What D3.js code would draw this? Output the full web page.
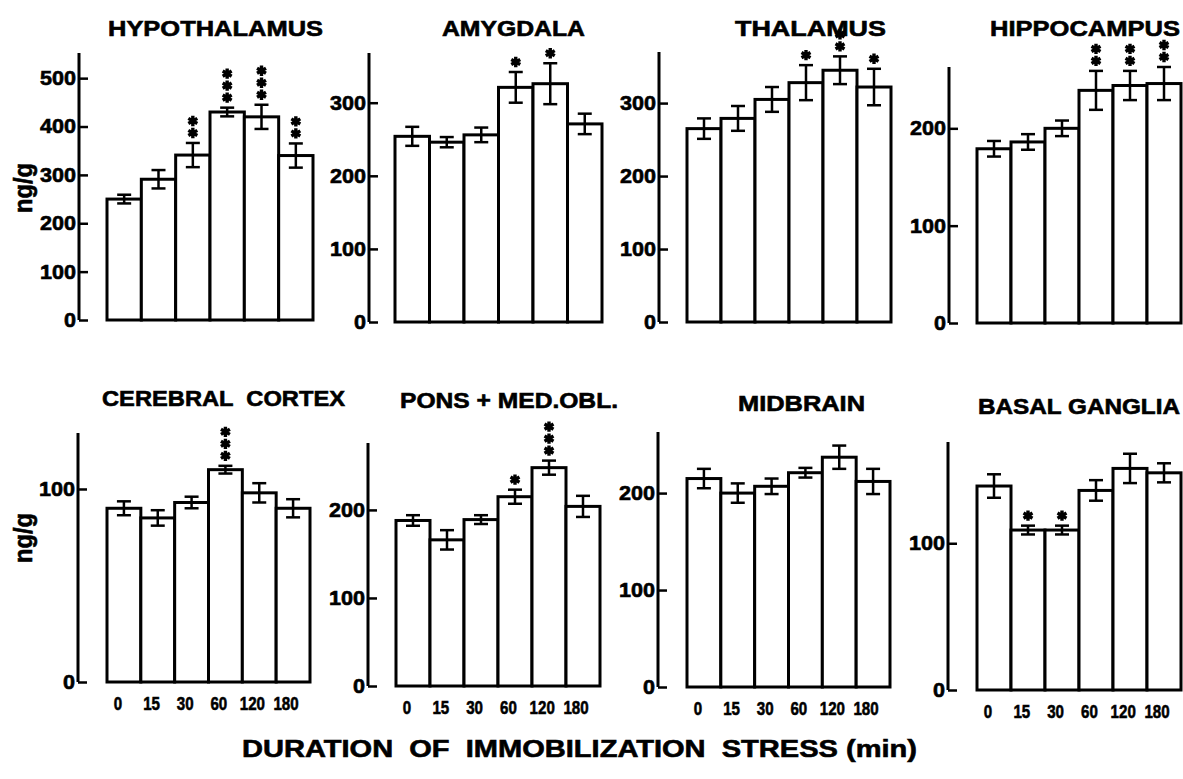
<!DOCTYPE html>
<html>
<head>
<meta charset="utf-8">
<script src="https://cdn.jsdelivr.net/npm/d3@7"></script>
<style>
  body { margin: 0; background: #fff; }
  svg { display: block; }
  text { font-family: "Liberation Sans", Arial, sans-serif; font-weight: bold; fill: #000; stroke: #000; stroke-width: 0.6px; }
</style>
</head>
<body>
<svg id="chart" width="1183" height="779"></svg>
<script>
// duraciones del estrés (min)
const durations = ["0", "15", "30", "60", "120", "180"];

// medias, errores y número de asteriscos por región
const hypothalamus = [250, 291, 341, 430, 420, 340];
const hypothalamusErr = [9, 19, 25, 9, 25, 25];
const hypothalamusStars = [0, 0, 2, 3, 3, 2];

const amygdala = [254, 246, 256, 321, 326, 271];
const amygdalaErr = [13, 7, 10, 21, 28, 14];
const amygdalaStars = [0, 0, 0, 1, 1, 0];

const thalamus = [265, 279, 305, 328, 345, 322];
const thalamusErr = [14, 17, 17, 24, 19, 25];
const thalamusStars = [0, 0, 0, 1, 2, 1];

const hippocampus = [179, 186, 200, 239, 244, 246];
const hippocampusErr = [8, 8, 8, 20, 15, 17];
const hippocampusStars = [0, 0, 0, 2, 2, 2];

const cortex = [90, 85, 93, 110, 98, 90];
const cortexErr = [3.6, 4, 3, 2, 5, 4.7];
const cortexStars = [0, 0, 0, 3, 0, 0];

const pons = [188, 166, 189, 215, 248, 204];
const ponsErr = [6, 11, 5, 8, 8, 12];
const ponsStars = [0, 0, 0, 1, 3, 0];

const midbrain = [215, 200, 207, 221, 237, 212];
const midbrainErr = [10, 10, 8, 5, 12, 13];
const midbrainStars = [0, 0, 0, 0, 0, 0];

const basalGanglia = [139, 109, 109, 136, 151, 148];
const basalGangliaErr = [8, 3, 3, 7, 10, 6.5];
const basalGangliaStars = [0, 1, 1, 0, 0, 0];

const titles = ["HYPOTHALAMUS", "AMYGDALA", "THALAMUS", "HIPPOCAMPUS",
                "CEREBRAL  CORTEX", "PONS + MED.OBL.", "MIDBRAIN", "BASAL GANGLIA"];
const yTicks = [[0, 100, 200, 300, 400, 500], [0, 100, 200, 300], [0, 100, 200, 300], [0, 100, 200],
                [0, 100], [0, 100, 200], [0, 100, 200], [0, 100]];

const panels = [
  { mean: hypothalamus, err: hypothalamusErr, stars: hypothalamusStars },
  { mean: amygdala, err: amygdalaErr, stars: amygdalaStars },
  { mean: thalamus, err: thalamusErr, stars: thalamusStars },
  { mean: hippocampus, err: hippocampusErr, stars: hippocampusStars },
  { mean: cortex, err: cortexErr, stars: cortexStars },
  { mean: pons, err: ponsErr, stars: ponsStars },
  { mean: midbrain, err: midbrainErr, stars: midbrainStars },
  { mean: basalGanglia, err: basalGangliaErr, stars: basalGangliaStars }
];

// posiciones de cada panel (eje, barras, título)
const layout = [
  { ax: 79,  top: 53,  bottom: 320, vmax: 552, x0: 107, x1: 313, tx: 108, tw: 215, ty: 36 },
  { ax: 369, top: 53,  bottom: 322, vmax: 368, x0: 395, x1: 602, tx: 442, tw: 143, ty: 36 },
  { ax: 659, top: 52,  bottom: 322, vmax: 370, x0: 687, x1: 891, tx: 735, tw: 151, ty: 36 },
  { ax: 949, top: 67,  bottom: 323, vmax: 263, x0: 977, x1: 1181, tx: 990, tw: 190, ty: 36 },
  { ax: 78,  top: 433, bottom: 682, vmax: 129, x0: 107, x1: 310, tx: 102, tw: 243, ty: 406 },
  { ax: 368, top: 443, bottom: 686, vmax: 276, x0: 396, x1: 600, tx: 400, tw: 218, ty: 408 },
  { ax: 658, top: 432, bottom: 687, vmax: 263, x0: 687, x1: 890, tx: 738, tw: 127, ty: 411 },
  { ax: 948, top: 442, bottom: 690, vmax: 169, x0: 977, x1: 1181, tx: 978, tw: 202, ty: 414 }
];

const svg = d3.select("#chart");
const star = d3.symbol().type(d3.symbolAsterisk).size(75);

panels.forEach((p, i) => {
  const L = layout[i];
  const y = d3.scaleLinear().domain([0, L.vmax]).range([L.bottom, L.top]);
  const x = d3.scaleBand().domain(durations).range([L.x0, L.x1]);
  const bw = x.bandwidth();
  const g = svg.append("g");

  // barras
  g.selectAll("rect.bar")
    .data(p.mean)
    .join("rect")
    .attr("class", "bar")
    .attr("x", (d, j) => x(durations[j]))
    .attr("y", d => y(d))
    .attr("width", bw)
    .attr("height", d => L.bottom - y(d))
    .attr("fill", "#fff")
    .attr("stroke", "#000")
    .attr("stroke-width", 3);

  // barras de error
  const eb = g.selectAll("g.err")
    .data(p.mean)
    .join("g")
    .attr("class", "err")
    .attr("stroke", "#000")
    .attr("stroke-width", 2.5);
  eb.append("line")
    .attr("x1", (d, j) => x(durations[j]) + bw / 2)
    .attr("x2", (d, j) => x(durations[j]) + bw / 2)
    .attr("y1", (d, j) => y(d - p.err[j]))
    .attr("y2", (d, j) => y(d + p.err[j]));
  [-1, 1].forEach(sgn => {
    eb.append("line")
      .attr("x1", (d, j) => x(durations[j]) + bw / 2 - 7)
      .attr("x2", (d, j) => x(durations[j]) + bw / 2 + 7)
      .attr("y1", (d, j) => y(d + sgn * p.err[j]))
      .attr("y2", (d, j) => y(d + sgn * p.err[j]));
  });

  // asteriscos
  p.stars.forEach((n, j) => {
    for (let s = 0; s < n; s++) {
      const cy = y(p.mean[j] + p.err[j]) - 10 - s * 12;
      g.append("path")
        .attr("d", star)
        .attr("transform", `translate(${x(durations[j]) + bw / 2},${cy})`)
        .attr("fill", "none")
        .attr("stroke", "#000")
        .attr("stroke-width", 3.4);
    }
  });

  // eje y
  const axis = d3.axisLeft(y).tickValues(yTicks[i]).tickSize(-9).tickSizeOuter(0).tickPadding(3);
  const ag = g.append("g").attr("transform", `translate(${L.ax},0)`).call(axis);
  ag.select(".domain").attr("stroke-width", 3).attr("d", `M0,${L.top}V${L.bottom}`);
  ag.selectAll(".tick line").attr("stroke-width", 2.5);
  ag.selectAll(".tick text")
    .attr("font-size", 20)
    .attr("font-family", "Liberation Sans, Arial, sans-serif")
    .attr("font-weight", "bold")
    .attr("textLength", d => String(d).length * 12)
    .attr("lengthAdjust", "spacingAndGlyphs");

  // título
  g.append("text")
    .attr("x", L.tx)
    .attr("y", L.ty)
    .attr("font-size", 22)
    .attr("textLength", L.tw)
    .attr("lengthAdjust", "spacingAndGlyphs")
    .style("white-space", "pre")
    .text(titles[i]);

  // etiquetas de duración (sólo fila inferior)
  if (i >= 4) {
    const xl = d3.scalePoint().domain(durations).range([L.x0 + 11, L.x1 - 24]);
    g.selectAll("text.dur")
      .data(durations)
      .join("text")
      .attr("class", "dur")
      .attr("x", d => xl(d))
      .attr("y", L.bottom + 28)
      .attr("text-anchor", "middle")
      .attr("font-size", 19)
      .attr("textLength", d => d.length * 8.4)
      .attr("lengthAdjust", "spacingAndGlyphs")
      .text(d => d);
  }
});

// etiquetas ng/g
[188, 538].forEach(cy => {
  svg.append("text")
    .attr("transform", `translate(32,${cy}) rotate(-90)`)
    .attr("text-anchor", "middle")
    .attr("font-size", 25)
    .attr("textLength", 50)
    .attr("lengthAdjust", "spacingAndGlyphs")
    .text("ng/g");
});

svg.append("text")
  .attr("x", 242)
  .attr("y", 757)
  .attr("font-size", 24)
  .attr("textLength", 675)
  .attr("lengthAdjust", "spacingAndGlyphs")
  .style("white-space", "pre")
  .text("DURATION  OF  IMMOBILIZATION  STRESS (min)");
</script>
</body>
</html>
